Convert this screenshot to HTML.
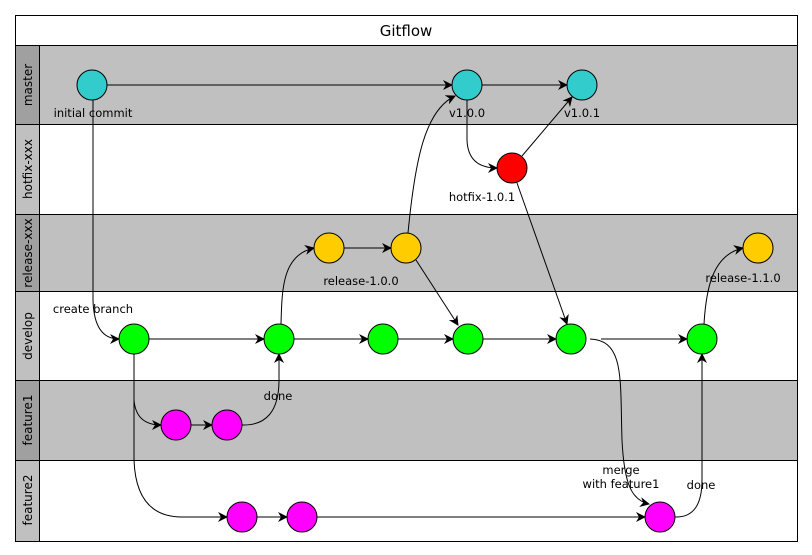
<!DOCTYPE html>
<html><head><meta charset="utf-8"><style>body{margin:0;background:#fff}svg{display:block}</style></head><body>
<svg width="812" height="555" viewBox="0 0 812 555" xmlns="http://www.w3.org/2000/svg" font-family="DejaVu Sans, Liberation Sans, sans-serif">
<defs><marker id="a" markerWidth="10" markerHeight="10" refX="9" refY="5" orient="auto" markerUnits="userSpaceOnUse"><path d="M0,0 L10,5 L0,10 L3,5 z" fill="#000"/></marker></defs>
<rect x="15.5" y="15.5" width="782" height="526" fill="#fff" stroke="#000"/>
<text x="406" y="36" font-size="15" text-anchor="middle">Gitflow</text>
<g stroke="#000">
<rect x="15.5" y="45.5" width="782" height="79" fill="#c0c0c0"/>
<rect x="15.5" y="45.5" width="24" height="79" fill="#a0a0a0"/>
<rect x="15.5" y="124.5" width="782" height="90" fill="#fff"/>
<rect x="15.5" y="124.5" width="24" height="90" fill="#c0c0c0"/>
<rect x="15.5" y="214.5" width="782" height="77" fill="#c0c0c0"/>
<rect x="15.5" y="214.5" width="24" height="77" fill="#a0a0a0"/>
<rect x="15.5" y="291.5" width="782" height="89" fill="#fff"/>
<rect x="15.5" y="291.5" width="24" height="89" fill="#c0c0c0"/>
<rect x="15.5" y="380.5" width="782" height="80" fill="#c0c0c0"/>
<rect x="15.5" y="380.5" width="24" height="80" fill="#a0a0a0"/>
<rect x="15.5" y="460.5" width="782" height="81" fill="#fff"/>
<rect x="15.5" y="460.5" width="24" height="81" fill="#c0c0c0"/>
</g>
<g font-size="12" text-anchor="middle">
<text transform="translate(32,85) rotate(-90)">master</text>
<text transform="translate(32,169) rotate(-90)">hotfix-xxx</text>
<text transform="translate(32,253) rotate(-90)">release-xxx</text>
<text transform="translate(32,336) rotate(-90)">develop</text>
<text transform="translate(32,420) rotate(-90)">feature1</text>
<text transform="translate(32,500) rotate(-90)">feature2</text>
</g>
<g fill="none" stroke="#000" stroke-width="1" marker-end="url(#a)">
<path d="M107,85 H452"/>
<path d="M482,85 H567"/>
<path d="M93,100 V300 Q94,339 119,339"/>
<path d="M408,233 C415,160 425,110 455,96"/>
<path d="M467,100 V140 Q468,168 497,168"/>
<path d="M522,156 L572,97"/>
<path d="M517,183 L567,324"/>
<path d="M416,260 L458,325"/>
<path d="M281,324 C282,290 282,255 314,248"/>
<path d="M344,248 H391"/>
<path d="M149,339 H264"/>
<path d="M294,339 H368"/>
<path d="M398,339 H453"/>
<path d="M483,339 H556"/>
<path d="M601,339 H687"/>
<path d="M134,354 V400 Q136,425 161,425"/>
<path d="M134,354 V460 Q136,517 182,517 H227"/>
<path d="M191,425 H212"/>
<path d="M242,425 Q279,426 279,380 V354"/>
<path d="M257,517 H287"/>
<path d="M317,517 H645"/>
<path d="M590,339 C625,340 620,380 622,440 C624,480 630,500 649,504"/>
<path d="M675,517 Q702,518 702,480 V354"/>
<path d="M704,324 C706,290 712,255 743,248"/>
</g>
<g stroke="#000">
<circle cx="92" cy="85" r="15" fill="#33cccc"/>
<circle cx="467" cy="85" r="15" fill="#33cccc"/>
<circle cx="582" cy="85" r="15" fill="#33cccc"/>
<circle cx="512" cy="168" r="15" fill="#ff0000"/>
<circle cx="329" cy="248" r="15" fill="#ffcc00"/>
<circle cx="406" cy="248" r="15" fill="#ffcc00"/>
<circle cx="758" cy="248" r="15" fill="#ffcc00"/>
<circle cx="134" cy="339" r="15" fill="#00ff00"/>
<circle cx="279" cy="339" r="15" fill="#00ff00"/>
<circle cx="383" cy="339" r="15" fill="#00ff00"/>
<circle cx="468" cy="339" r="15" fill="#00ff00"/>
<circle cx="571" cy="339" r="15" fill="#00ff00"/>
<circle cx="702" cy="339" r="15" fill="#00ff00"/>
<circle cx="176" cy="425" r="15" fill="#ff00ff"/>
<circle cx="227" cy="425" r="15" fill="#ff00ff"/>
<circle cx="242" cy="517" r="15" fill="#ff00ff"/>
<circle cx="302" cy="517" r="15" fill="#ff00ff"/>
<circle cx="660" cy="517" r="15" fill="#ff00ff"/>
</g>
<g font-size="11.5" text-anchor="middle">
<text x="93" y="117">initial commit</text>
<text x="467" y="117">v1.0.0</text>
<text x="582" y="117">v1.0.1</text>
<text x="482" y="201">hotfix-1.0.1</text>
<text x="361" y="285">release-1.0.0</text>
<text x="743" y="282">release-1.1.0</text>
<text x="93" y="313">create branch</text>
<text x="278" y="400">done</text>
<text x="621" y="474">merge</text>
<text x="621" y="488">with feature1</text>
<text x="701" y="489">done</text>
</g>
</svg>
</body></html>
